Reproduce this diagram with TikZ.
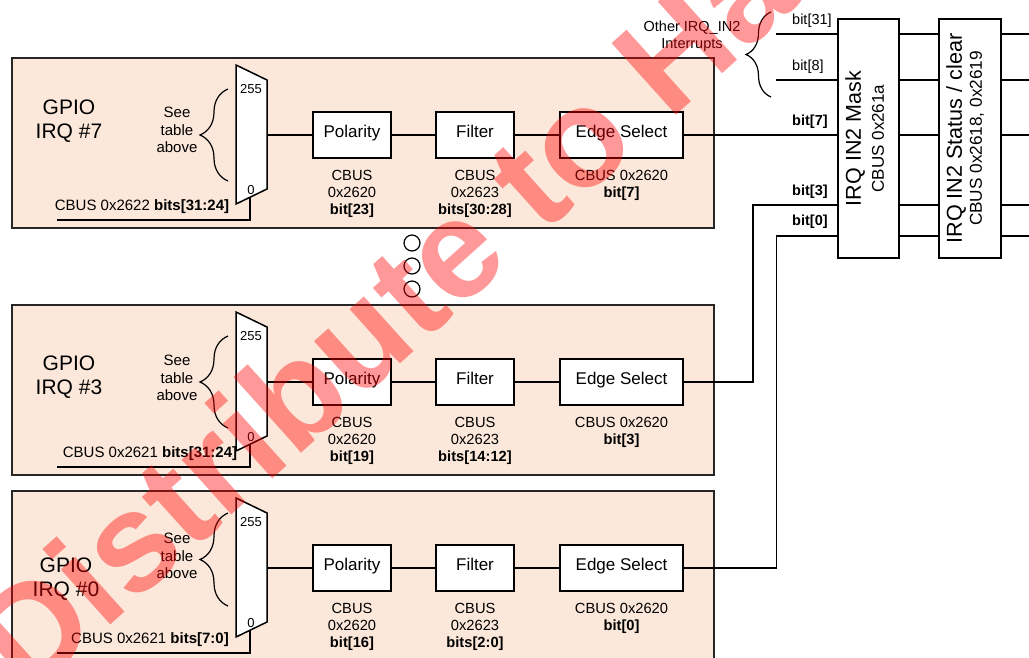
\documentclass[tikz,border=0pt]{standalone}
\usepackage{fontspec}
\setmainfont{Liberation Sans}
\usetikzlibrary{positioning,decorations.pathreplacing}
\definecolor{gpiofill}{RGB}{252,232,218}
\newcommand{\fsz}[2]{\fontsize{#1}{#2}\selectfont}
\tikzset{
  wire/.style={line width=1.2pt},
  blkline/.style={line width=1.5pt},
  panel/.style={draw=black!85, fill=gpiofill, line width=1.5pt, minimum width=702pt, minimum height=170pt, inner sep=0pt},
  blk/.style={draw, fill=white, line width=1.5pt, minimum height=46pt, inner sep=0pt, text height=12.4pt, text depth=8.2pt, font=\fsz{17}{20}},
  regtxt/.style={align=center, inner sep=0pt, font=\fsz{14.7}{17}},
  gpiotxt/.style={align=center, inner sep=0pt, font=\fsz{21}{24}},
  seetxt/.style={align=center, inner sep=0pt, font=\fsz{15}{17.5}},
  muxtxt/.style={inner sep=0pt, font=\fsz{13}{15}},
  bittxt/.style={anchor=west, inner sep=0pt, font=\fsz{14.5}{17}},
  brc/.style={wire, decorate, decoration={brace, amplitude=#1}},
  dot/.style={draw, circle, line width=1.2pt, minimum size=16pt, inner sep=0pt},
  wmark/.style={text=red, text opacity=0.4, inner sep=0pt, font=\fsz{140}{142}\bfseries}
}
\begin{document}
\begin{tikzpicture}[x=1pt,y=-1pt]
\useasboundingbox (0,0) rectangle (1029,657);
\foreach \n/\oy/\gx/\gy/\sy/\bt/\bb/\lx/\rg/\sbits/\pbit/\fbits in
  {7/0/69/121/130/89/181/142/2622/31:24/23/30:28,
   3/247/69/130/131/89/181/150/2621/31:24/19/14:12,
   0/433/66/146/123/80/173/150/2621/7:0/16/2:0}{
  \begin{scope}[shift={(0,\oy)}]
    \node[panel] (gpio\n) at (363,143) {};
    \node[gpiotxt] (name\n) at (\gx,\gy) {GPIO\\IRQ \#\n};
    \node[seetxt] (see\n) at (177,\sy) {See\\table\\above};
    \draw[brc=28pt] (228,\bb) -- (228,\bt);
    % selector mux
    \draw[blkline, fill=white] (236,65) -- (267,80) -- (267,189) -- (236,204) -- cycle;
    \coordinate (mux\n) at (267,135);
    \coordinate (ms\n) at (250,197);
    \coordinate (sl\n) at (57,220);
    \node[muxtxt] (hi\n) at (251,89) {255};
    \node[muxtxt] (lo\n) at (251,190) {0};
    \draw[wire] (ms\n) |- (sl\n);
    \node[inner sep=0pt, font=\fsz{15}{17}] (slab\n) at (\lx,207) {CBUS 0x\rg{} \textbf{bits[\sbits]}};
    % polarity, filter, edge select
    \node[blk, minimum width=78pt] (pol\n) at (352,135) {Polarity};
    \node[blk, minimum width=78pt] (fil\n) at (475,135) {Filter};
    \node[blk, minimum width=123pt] (edge\n) at (621.5,135) {Edge Select};
    \draw[wire] (mux\n) -- (pol\n) (pol\n) -- (fil\n) (fil\n) -- (edge\n);
    \node[regtxt, below=11.5pt of pol\n] (polr\n) {CBUS\\0x2620\\\textbf{bit[\pbit]}};
    \node[regtxt, below=11.5pt of fil\n] (filr\n) {CBUS\\0x2623\\\textbf{bits[\fbits]}};
    \node[regtxt, below=11.5pt of edge\n] (edger\n) {CBUS 0x2620\\\textbf{bit[\n]}};
  \end{scope}}
\foreach \i in {0,1,2}
  \node[dot] (dot\i) at (412,243+23*\i) {};
% mask and status registers
\node[blk, minimum width=61pt, minimum height=239pt] (mask) at (868.5,138.5) {};
\node[blk, minimum width=62pt, minimum height=239pt] (stat) at (970,138.5) {};
\node[rotate=90, inner sep=0pt, font=\fsz{21.5}{24}] at ([xshift=-13.5pt]mask.center) {IRQ IN2 Mask};
\node[rotate=90, inner sep=0pt, font=\fsz{17}{19}] at ([xshift=9.5pt]mask.center) {CBUS 0x261a};
\node[rotate=90, inner sep=0pt, font=\fsz{21.6}{24}] at ([xshift=-14pt]stat.center) {IRQ IN2 Status / clear};
\node[rotate=90, inner sep=0pt, font=\fsz{17.2}{19}] at ([xshift=7pt]stat.center) {CBUS 0x2618, 0x2619};
\coordinate (r31) at (776,34);
\coordinate (r8) at (776,80);
\coordinate (r7) at (0,135);
\coordinate (r3) at (753,205);
\coordinate (r0) at (776.5,236);
\foreach \r in {r31,r8,r7,r3,r0}{
  \coordinate (out\r) at (1029,0 |- \r);
  \draw[wire] (mask.east |- \r) -- (stat.west |- \r);
  \draw[wire] (stat.east |- \r) -- (out\r);
}
\draw[wire] (r31) -- (mask.west |- r31);
\draw[wire] (r8) -- (mask.west |- r8);
\draw[wire] (edge7) -- (mask.west |- r7);
\draw[wire] (edge3.east) -| (r3) -- (mask.west |- r3);
\draw[wire] (edge0.east) -| (r0) -- (mask.west |- r0);
\node[bittxt] (b31) at (792,21) {bit[31]};
\node[bittxt] (b8) at (792,67) {bit[8]};
\node[bittxt] (b7) at (792,122) {\bfseries bit[7]};
\node[bittxt] (b3) at (792,192) {\bfseries bit[3]};
\node[bittxt] (b0) at (792,222) {\bfseries bit[0]};
\draw[brc=25pt] (771,97) -- (771,12);
\node[align=center, inner sep=0pt, font=\fsz{14.5}{17}] (other) at (692,36.5) {Other IRQ\_IN2\\Interrupts};
% watermark
\node[wmark, rotate=42, anchor=base west] (wm) at (28,699) {Distribute to Ha};
\end{tikzpicture}
\end{document}
